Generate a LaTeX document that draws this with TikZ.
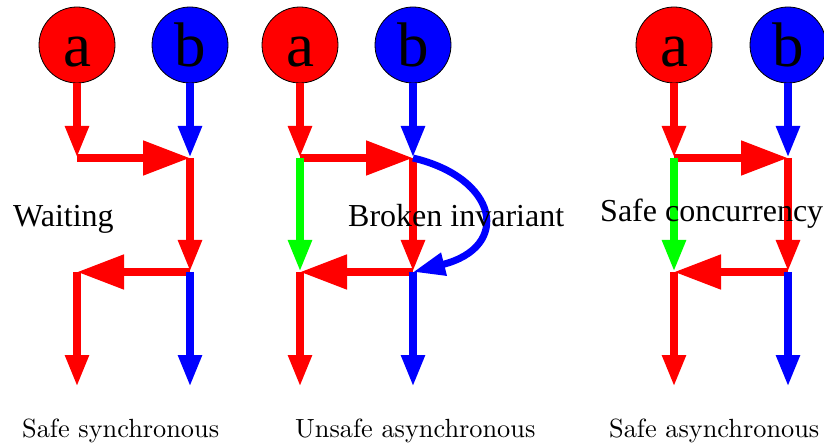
\documentclass[tikz,border=0pt]{standalone}
\usepackage{fontspec}
\setmainfont{Liberation Serif}
\newfontfamily\lmcap{lmroman10-regular}[Extension=.otf]
\usetikzlibrary{arrows.meta}

\tikzset{
  proc/.style={circle, draw=black, line width=0.8pt, minimum size=76pt,
    inner sep=0pt, text height=44pt, text depth=0pt,
    font=\fontsize{63}{63}\selectfont},
  flow/.style={line width=8pt},
  loopflow/.style={line width=7pt},
  vtip/.style={-{Triangle[length=32pt,width=22pt]}},
  htip/.style={-{Triangle[length=47pt,width=33pt]}},
  note/.style={anchor=base west, inner sep=0pt,
    font=\fontsize{32}{36}\selectfont},
  caption/.style={anchor=base west, inner sep=0pt,
    font=\lmcap\fontsize{26.3}{30}\selectfont},
}

\begin{document}
\begin{tikzpicture}[x=1pt, y=-1pt]
  \useasboundingbox (0,0) rectangle (824,446);

  % ---- Safe synchronous ----
  \node[proc, fill=red]  (a1) at (77,45)  {a};
  \node[proc, fill=blue] (b1) at (190,45) {b};
  \coordinate (p1) at (77,158);
  \coordinate (q1) at (190,158);
  \coordinate (r1) at (77,272);
  \coordinate (s1) at (190,272);
  \coordinate (u1) at (77,387);
  \coordinate (v1) at (190,387);
  \draw[flow, red, vtip]  (a1) -- (p1);
  \draw[flow, red, htip]  (p1) -- (q1);
  \draw[flow, blue, vtip] (b1) -- (q1);
  \draw[flow, red, vtip]  (q1) -- (s1);
  \draw[flow, red, htip]  (s1) -- (r1);
  \draw[flow, red, vtip]  (r1) -- (u1);
  \draw[flow, blue, vtip] (s1) -- (v1);

  % ---- Unsafe asynchronous ----
  \node[proc, fill=red]  (a2) at (300,45) {a};
  \node[proc, fill=blue] (b2) at (413,45) {b};
  \coordinate (p2) at (300,158);
  \coordinate (q2) at (413,158);
  \coordinate (r2) at (300,272);
  \coordinate (s2) at (413,272);
  \coordinate (u2) at (300,387);
  \coordinate (v2) at (413,387);
  \draw[flow, red, vtip]   (a2) -- (p2);
  \draw[flow, red, htip]   (p2) -- (q2);
  \draw[flow, blue, vtip]  (b2) -- (q2);
  \draw[flow, green, vtip] (p2) -- (r2);
  \draw[flow, red, vtip]   (q2) -- (s2);
  \draw[loopflow, blue, vtip] (q2) .. controls (498,178) and (512,247) .. (s2);
  \draw[flow, red, htip]   (s2) -- (r2);
  \draw[flow, red, vtip]   (r2) -- (u2);
  \draw[flow, blue, vtip]  (s2) -- (v2);

  % ---- Safe asynchronous ----
  \node[proc, fill=red]  (a3) at (674,45) {a};
  \node[proc, fill=blue] (b3) at (788,45) {b};
  \coordinate (p3) at (674,158);
  \coordinate (q3) at (788,158);
  \coordinate (r3) at (674,272);
  \coordinate (s3) at (788,272);
  \coordinate (u3) at (674,387);
  \coordinate (v3) at (788,387);
  \draw[flow, red, vtip]   (a3) -- (p3);
  \draw[flow, red, htip]   (p3) -- (q3);
  \draw[flow, blue, vtip]  (b3) -- (q3);
  \draw[flow, green, vtip] (p3) -- (r3);
  \draw[flow, red, vtip]   (q3) -- (s3);
  \draw[flow, red, htip]   (s3) -- (r3);
  \draw[flow, red, vtip]   (r3) -- (u3);
  \draw[flow, blue, vtip]  (s3) -- (v3);

  % ---- labels ----
  \node[note] (n1) at (13,227)  {Waiting};
  \node[note] (n2) at (348,227) {Broken invariant};
  \node[note] (n3) at (600,222) {Safe concurrency};

  \node[caption] (c1) at (22,437)  {Safe synchronous};
  \node[caption] (c2) at (295,437) {Unsafe asynchronous};
  \node[caption] (c3) at (609,437) {Safe asynchronous};
\end{tikzpicture}
\end{document}
